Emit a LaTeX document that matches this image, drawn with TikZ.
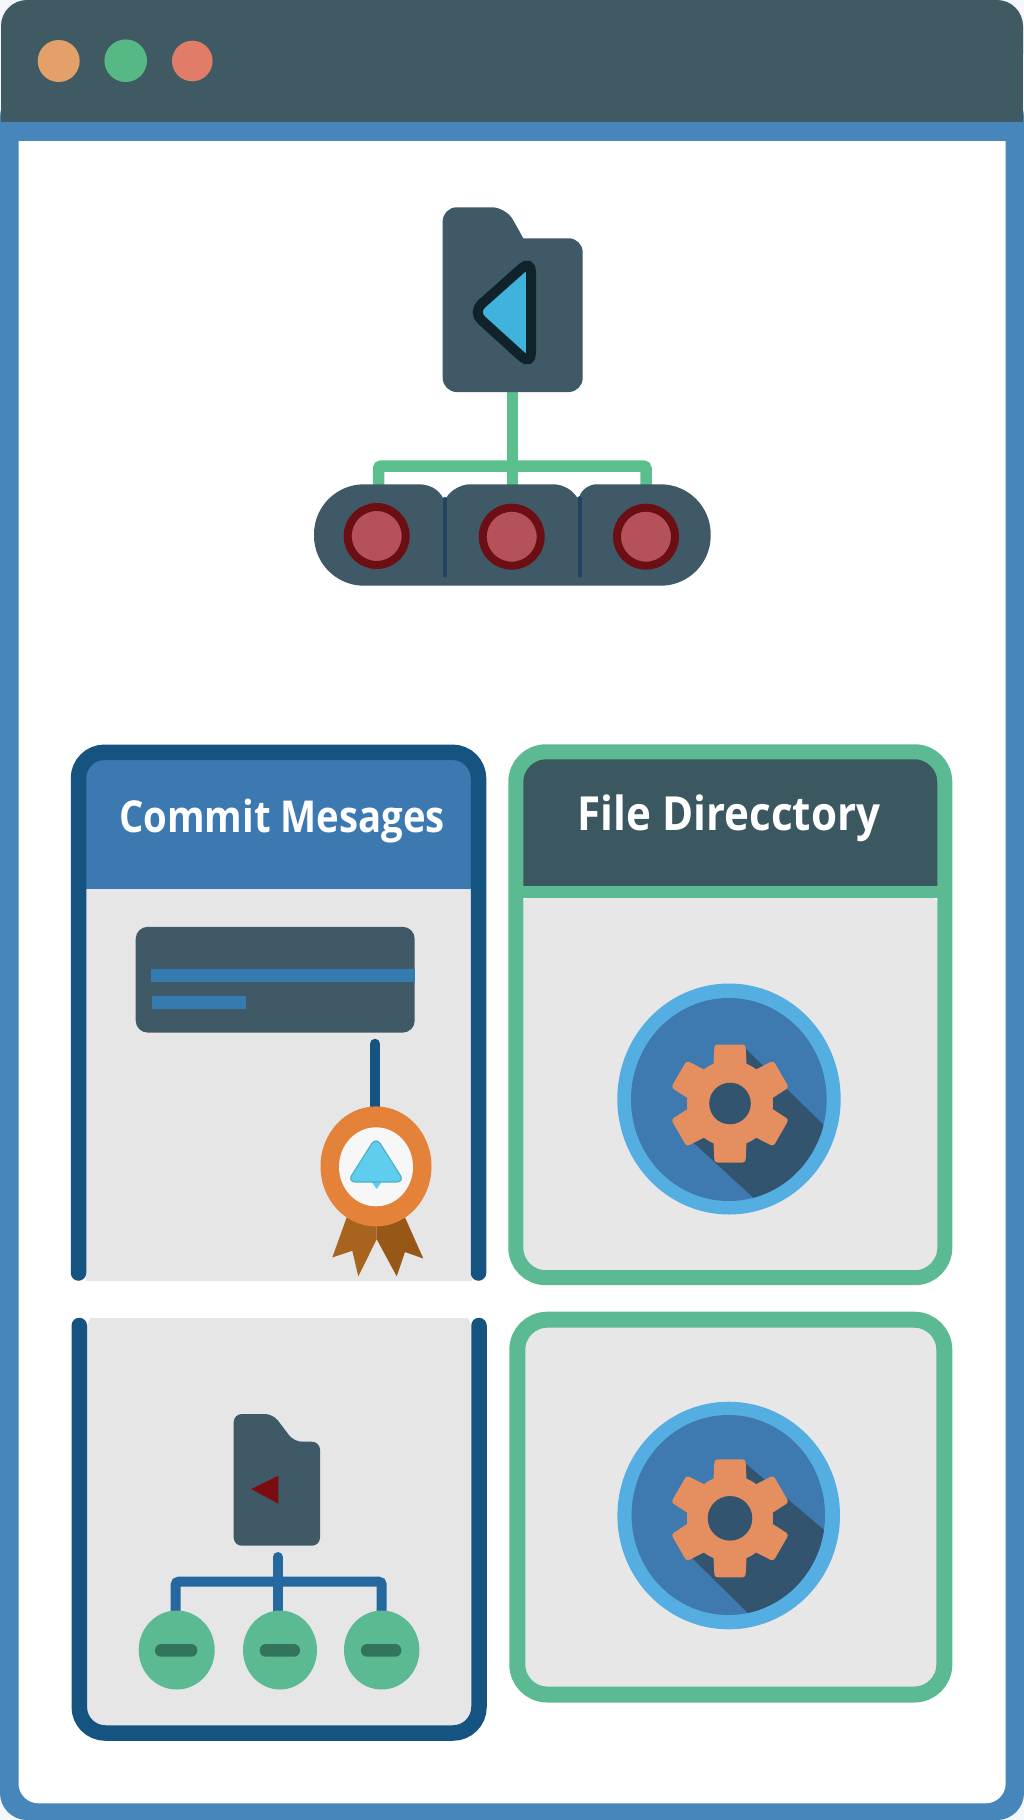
\documentclass[tikz,border=0pt]{standalone}
\usepackage{fontspec}
\usepackage{graphicx}
\setmainfont{Open Sans}
\usetikzlibrary{shapes.geometric}
\definecolor{slate}{HTML}{3F5966}
\definecolor{slatehead}{HTML}{405A64}
\definecolor{slatefile}{HTML}{3B5760}
\definecolor{winblue}{HTML}{4686BA}
\definecolor{cornerwhite}{HTML}{F4F8FA}
\definecolor{navy}{HTML}{155380}
\definecolor{hdrblue}{HTML}{3B79B0}
\definecolor{barblue}{HTML}{347BB0}
\definecolor{panelgrey}{HTML}{E6E6E6}
\definecolor{mint}{HTML}{5CBA92}
\definecolor{linkgreen}{HTML}{5ABF8C}
\definecolor{treeblue}{HTML}{24689F}
\definecolor{minusdark}{HTML}{33755C}
\definecolor{sky}{HTML}{54AEE2}
\definecolor{discblue}{HTML}{3E79B0}
\definecolor{gearorange}{HTML}{E58F60}
\definecolor{gearshadow}{HTML}{33546F}
\definecolor{darkmaroon}{HTML}{6B0F14}
\definecolor{rosefill}{HTML}{B55159}
\definecolor{medalorange}{HTML}{E5823A}
\definecolor{ribbonA}{HTML}{A8631F}
\definecolor{ribbonB}{HTML}{975717}
\definecolor{trifill}{HTML}{3FB3DC}
\definecolor{tristroke}{HTML}{11232A}
\definecolor{medaltri}{HTML}{5FCDEE}
\definecolor{triangleRed}{HTML}{7A0C12}
\definecolor{notchline}{HTML}{1F4560}
\definecolor{dotA}{HTML}{E3A068}
\definecolor{dotB}{HTML}{56B985}
\definecolor{dotC}{HTML}{E07C68}
\tikzset{
  rounddot/.style={circle,draw=none,inner sep=0pt,minimum size=#1},
  titletext/.style={text=white,inner sep=0pt,anchor=base},
  greenlink/.style={draw=linkgreen,line width=11.5pt,rounded corners=3pt},
  treelink/.style={draw=treeblue,line width=10pt,rounded corners=3pt},
  railstroke/.style={draw=navy,line width=15.5pt,line cap=round},
  ringdisc/.style={circle,fill=rosefill,draw=darkmaroon,line width=8pt,inner sep=0pt,minimum size=58pt},
  minusdisc/.style={ellipse,fill=mint,draw=none,inner sep=0pt,minimum width=#1,minimum height=79pt},
  minusbar/.style={fill=minusdark,rounded corners=6pt},
  skyring/.style={ellipse,fill=sky,draw=none,inner sep=0pt},
  innerdisc/.style={ellipse,fill=discblue,draw=none,inner sep=0pt},
  medalbody/.style={ellipse,draw=none,inner sep=0pt},
}
% gear: centre x,y, tooth radius, tooth half width, body radius, hole radius
\newcommand{\gearicon}[6]{%
  \begin{scope}[shift={(#1,#2)}]
    \foreach \a in {90,30,-30,-90,-150,150}{
      \fill[gearorange,rotate=\a,rounded corners=3pt]
        (0,-#4-3) -- (#3,-#4) -- (#3,#4) -- (0,#4+3) -- cycle;
    }
    \fill[gearorange] (0,0) circle[radius=#5];
    \fill[gearshadow] (0,0) circle[radius=#6];
  \end{scope}}
\begin{document}
\begin{tikzpicture}[x=1pt,y=-1pt]
\useasboundingbox (0,0) rectangle (1024,1820);
\fill[cornerwhite] (0,0) rectangle (1024,1820);
% window
\fill[winblue,rounded corners=27pt] (0,90) rectangle (1024,1820);
\fill[white,rounded corners=20pt] (18.5,100) -- (1005.7,100) -- (1005.7,1803.3) -- (18.5,1803.3) -- cycle;
\fill[slatehead,rounded corners=26pt] (1,0) -- (1023,0) -- (1023,80) -- (1,80) -- cycle;
\fill[slatehead] (1,50) rectangle (1023,122);
\fill[winblue] (0,121.5) rectangle (1024,141);
\node[rounddot=42pt,fill=dotA] (dotorange) at (58.7,61) {};
\node[rounddot=42.6pt,fill=dotB] (dotgreen) at (125.7,60.7) {};
\node[rounddot=40.6pt,fill=dotC] (dotred) at (192.3,61) {};

% top diagram: connectors first (they run behind the shapes)
\coordinate (pillL) at (378.5,490);
\coordinate (pillM) at (512.7,490);
\coordinate (pillR) at (646,490);
\coordinate (folderfoot) at (512.7,388);
\coordinate (joinT) at (512.7,466);
\draw[greenlink] (pillL) |- (joinT) -| (pillR);
\draw[greenlink] (folderfoot) -- (pillM);
\fill[slate,rounded corners=14pt] (442.7,207.3) -- (506,207.3) [sharp corners] -- (523.3,238.3) [rounded corners=14pt] -- (582.7,238.3) -- (582.7,392) -- (442.7,392) -- cycle;
\draw[draw=tristroke,fill=trifill,line width=10pt,rounded corners=12pt] (472.5,312) -- (531,260) -- (531,365) -- cycle;
% pill
\fill[slate,rounded corners=50pt] (314,484.3) rectangle (710.7,585.7);
\fill[white] (412,483) .. controls (430,484.3) and (438,488) .. (443.5,498.5) -- (445.5,498.5) .. controls (452,488) and (462,484.3) .. (475,483) -- cycle;
\fill[white] (548,483) .. controls (562,484.3) and (571,488) .. (577,497) -- (579,497) .. controls (582,488) and (590,484.3) .. (600,483) -- cycle;
\draw[notchline,line width=4pt,line cap=round] (444.5,499) -- (444.5,575.5);
\draw[notchline,line width=4pt,line cap=round] (579.5,498) -- (579.5,575.5);
\node[ringdisc] (ringL) at (376.7,536) {};
\node[ringdisc] (ringM) at (511.7,536.7) {};
\node[ringdisc] (ringR) at (646,536.7) {};

% panel 1
\fill[panelgrey] (86,885) rectangle (472,1281);
\fill[hdrblue,rounded corners=16pt] (86,760) -- (472,760) -- (472,810) -- (86,810) -- cycle;
\fill[hdrblue] (86,785) rectangle (472,889);
\draw[railstroke,rounded corners=26pt] (78.5,1273) -- (78.5,752.3) -- (478.5,752.3) -- (478.5,1273);
\node[titletext] (commitlabel) at (282,832.6) {\bfseries\scalebox{0.87}[1]{\fontsize{44}{44}\selectfont Commit Mesages}};
\fill[slate,rounded corners=12pt] (135.7,926.8) rectangle (414.7,1032.6);
\fill[barblue] (151,968.6) rectangle (414.7,981.7);
\fill[barblue] (151.7,995.9) rectangle (246,1009.3);
\coordinate (cardpin) at (375,1044);
\coordinate (medaltop) at (375,1115);
\draw[navy,line width=10.5pt,line cap=round] (cardpin) -- (medaltop);
\fill[ribbonA] (346.7,1217.4) -- (332.3,1257.4) -- (352.3,1250.8) -- (358.3,1276.3) -- (376.7,1239.2) -- (376.7,1224) -- cycle;
\fill[ribbonB] (405,1217.4) -- (423.3,1258.5) -- (405,1252) -- (396.7,1276.3) -- (376.7,1239.2) -- (376.7,1224) -- cycle;
\node[medalbody,fill=medalorange,minimum width=111pt,minimum height=120pt] (medal) at (376,1166.4) {};
\node[medalbody,fill=white!97!black,minimum width=74pt,minimum height=79pt] (medalcore) at (376,1166.8) {};
\fill[medaltri] (376.7,1189) -- (370.5,1180) -- (383,1180) -- cycle;
\draw[draw=medaltri!85!black,fill=medaltri,line width=1.2pt,rounded corners=8pt] (376,1137) -- (404.5,1182) -- (347.5,1182) -- cycle;

% panel 2
\fill[panelgrey!98!white,rounded corners=20pt] (520,892) -- (940,892) -- (940,1272) -- (520,1272) -- cycle;
\fill[slatefile,rounded corners=18pt] (520,755) -- (940,755) -- (940,815) -- (520,815) -- cycle;
\fill[slatefile] (520,790) rectangle (940,887);
\fill[mint] (516,885.7) rectangle (944,898.4);
\draw[mint,line width=15pt,rounded corners=30pt] (515.8,751.8) rectangle (944.8,1277.7);
\node[titletext] (filelabel) at (729,830.7) {\bfseries\scalebox{0.896}[1]{\fontsize{47}{47}\selectfont File Direcctory}};
\node[skyring,minimum width=223.4pt,minimum height=231pt] (skyA) at (729,1099) {};
\node[innerdisc,minimum width=195.6pt,minimum height=203pt] (discA) at (728.8,1099.5) {};
\begin{scope}
  \clip (728.8,1099.5) ellipse[x radius=97.8,y radius=101.5];
  \fill[gearshadow] (745,1048) -- (840,1141) -- (840,1240) -- (770,1213) -- (691.7,1141) -- cycle;
\end{scope}
\gearicon{730}{1103.5}{59}{15.5}{43}{20.8}

% panel 3
\fill[panelgrey,rounded corners=20pt] (86.7,1310) -- (471.7,1310) -- (471.7,1726) -- (86.7,1726) -- cycle;
\fill[white] (70,1300) rectangle (490,1318);
\draw[railstroke,rounded corners=26pt] (79.3,1325.5) -- (79.3,1733) -- (479,1733) -- (479,1325.5);
\coordinate (treefoot) at (277.7,1557);
\coordinate (treeL) at (175.7,1615);
\coordinate (treeM) at (277.7,1615);
\coordinate (treeR) at (381.7,1615);
\coordinate (treejoin) at (277.7,1581.7);
\draw[treelink] (treeL) |- (treejoin) -| (treeR);
\draw[treelink,line cap=round] (treefoot) -- (treeM);
\fill[slate,rounded corners=8pt] (233.7,1414) -- (273,1414) -- (294,1441.7) -- (320,1441.7) -- (320,1545.7) -- (233.7,1545.7) -- cycle;
\fill[triangleRed] (251.3,1489) -- (278.3,1475.7) -- (278.3,1503.7) -- cycle;
\node[minusdisc=76pt] (minusL) at (176.7,1650) {};
\node[minusdisc=74pt] (minusM) at (280,1650) {};
\node[minusdisc=75.4pt] (minusR) at (381.7,1650) {};
\fill[minusbar] (155,1644) rectangle (197.3,1656.7);
\fill[minusbar] (259.7,1644) rectangle (300,1656.7);
\fill[minusbar] (361,1644) rectangle (401.3,1656.7);

% panel 4
\fill[panelgrey!98!white,rounded corners=20pt] (520,1322) rectangle (941,1692);
\draw[mint,line width=16pt,rounded corners=30pt] (517.3,1319.7) rectangle (944.3,1694.5);
\node[skyring,minimum width=222.6pt,minimum height=227.6pt] (skyB) at (728.7,1515.5) {};
\node[innerdisc,minimum width=193.4pt,minimum height=200pt] (discB) at (728.3,1515) {};
\begin{scope}
  \clip (728.3,1515) ellipse[x radius=96.7,y radius=100];
  \fill[gearshadow] (745,1463) -- (830,1535) -- (830,1640) -- (750,1615) -- (690,1556) -- cycle;
\end{scope}
\gearicon{730}{1518.3}{59}{15.5}{43}{22.3}
\end{tikzpicture}
\end{document}
